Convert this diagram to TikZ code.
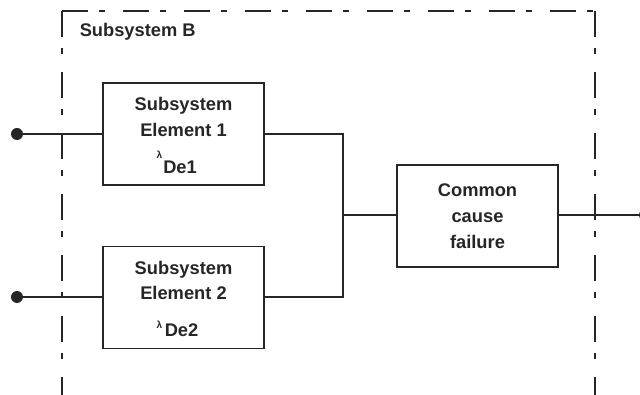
\documentclass[tikz,border=0pt]{standalone}
\usepackage{fontspec}
\setmainfont{Liberation Sans}
\begin{document}
\begin{tikzpicture}[x=1pt,y=-1pt,
  line width=1.5pt,
  every node/.style={text=black!85},
  blockbox/.style={draw=black!85,line width=1.5pt,minimum width=161pt,minimum height=102pt,inner sep=0pt},
  txt/.style={font=\fontsize{18.3}{20}\selectfont\bfseries,anchor=base,inner sep=0pt},
  lam/.style={font=\fontsize{10}{11}\selectfont\bfseries,anchor=base,inner sep=0pt},
  wire/.style={draw=black!85,line width=1.5pt},
  bound/.style={draw=black!85,line width=1.1pt,dash pattern=on 26pt off 11pt on 6pt off 18pt},
  dotc/.style={circle,fill=black!85,inner sep=0pt,minimum size=12pt}]
\useasboundingbox (0,0) rectangle (640,395);
% boundary
\draw[bound] (62,11) -- (595,11);
\draw[bound] (62,11) -- (62,395);
\draw[bound] (595,11) -- (595,395);
\node[txt,anchor=base west] (lblB) at (79,37) {Subsystem B};
% blocks
\node[blockbox] (e1) at (183.5,134) {};
\node[blockbox] (e2) at (183.5,297.5) {};
\node[blockbox] (cc) at (477.5,216) {};
% texts
\node[txt] (e1a) at (183.5,111) {Subsystem};
\node[txt] (e1b) at (183.5,136.5) {Element 1};
\node[txt,anchor=base west] (e1c) at (162.5,174) {De1};
\node[lam] (e1l) at (159.5,159) {λ};
\node[txt] (e2a) at (183.5,274.5) {Subsystem};
\node[txt] (e2b) at (183.5,300) {Element 2};
\node[txt,anchor=base west] (e2c) at (164,337) {De2};
\node[lam] (e2l) at (159.5,329) {λ};
\node[txt] (cca) at (477.5,197) {Common};
\node[txt] (ccb) at (477.5,223) {cause};
\node[txt] (ccc) at (477.5,248.5) {failure};
% connectors
\node[dotc] (d1) at (17,134) {};
\node[dotc] (d2) at (17,297) {};
\node[dotc] (d3) at (645,215) {};
\coordinate (j1) at (343,134);
\coordinate (j2) at (343,297);
\coordinate (jm) at (343,215);
\draw[wire] (d1.center) -- (e1.west |- d1);
\draw[wire] (d2.center) -- (e2.west |- d2);
\draw[wire] (e1.east |- j1) -- (j1) -- (j2) -- (e2.east |- j2);
\draw[wire] (jm) -- (cc.west |- jm);
\draw[wire] (cc.east |- jm) -- (d3.center);
\end{tikzpicture}
\end{document}
